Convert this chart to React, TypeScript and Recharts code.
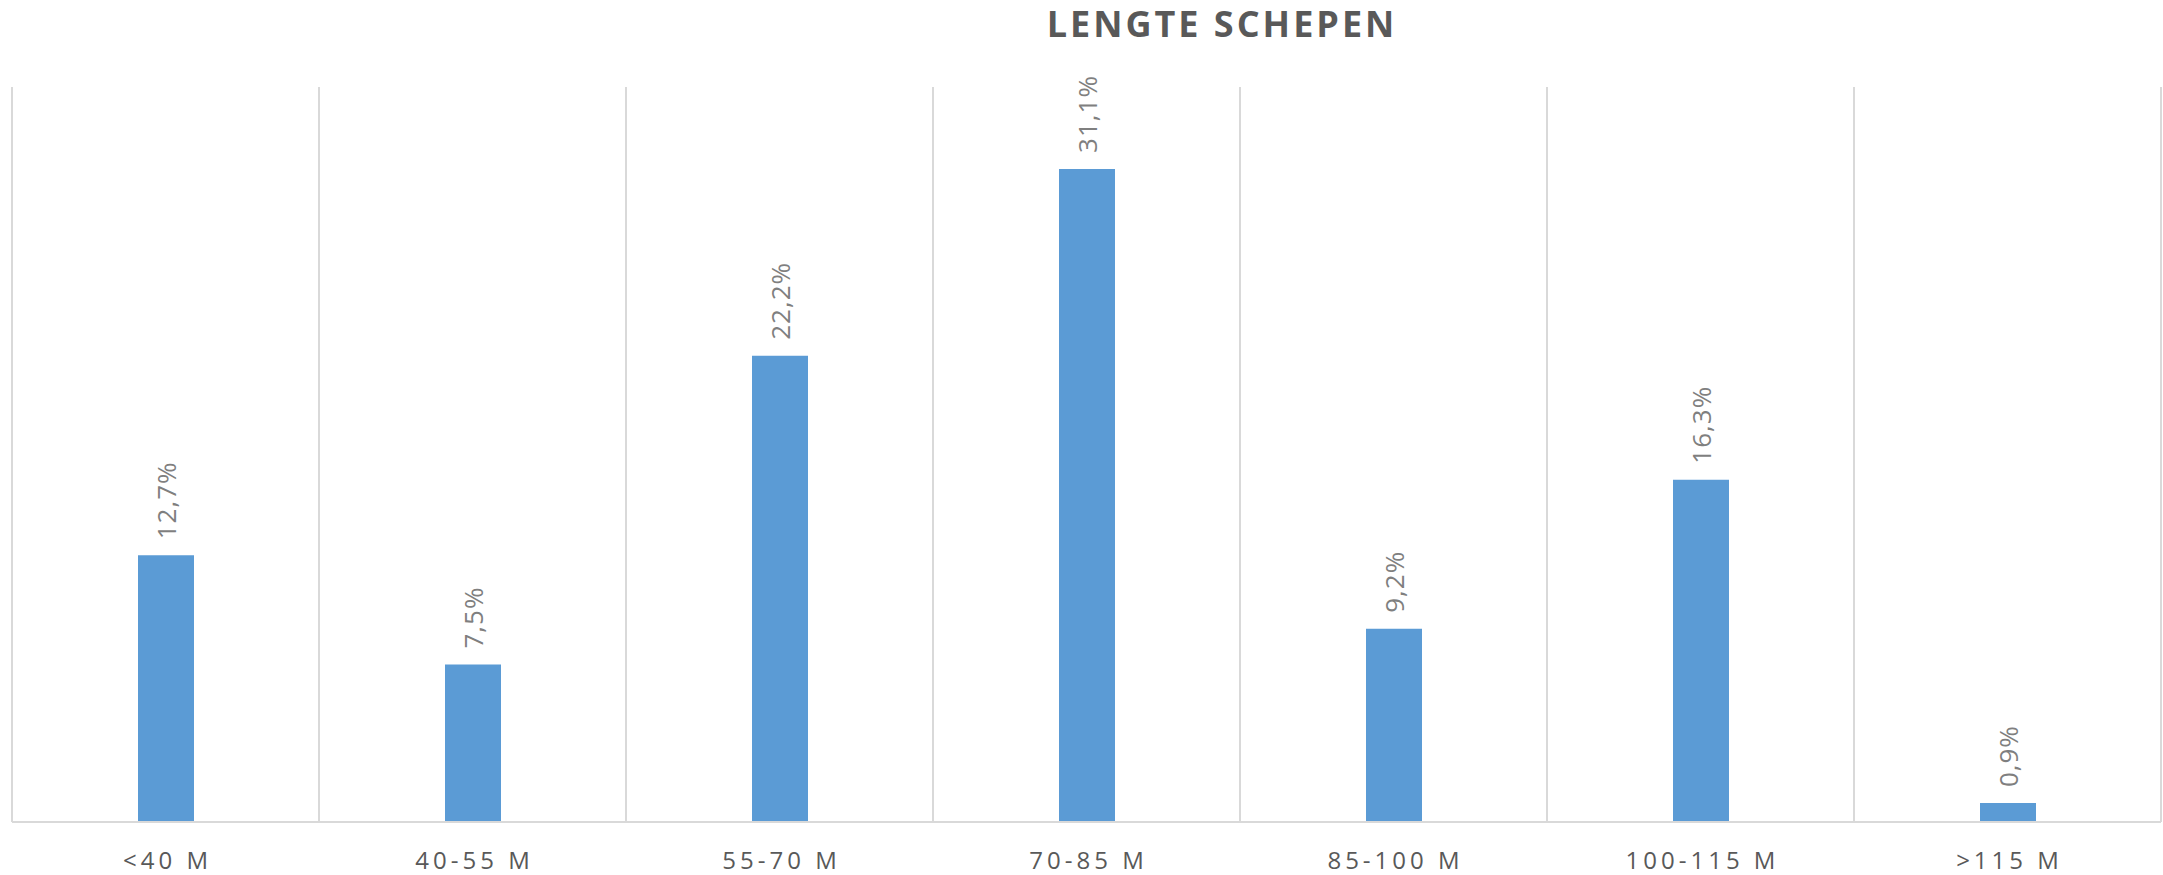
import React from 'react';
import { BarChart, Bar, XAxis, YAxis, CartesianGrid, LabelList } from 'recharts';

const categories = ['<40 M', '40-55 M', '55-70 M', '70-85 M', '85-100 M', '100-115 M', '>115 M'];
const shares = [12.7, 7.5, 22.2, 31.1, 9.2, 16.3, 0.9];
const gridTicks = [0, 1, 2, 3, 4, 5, 6, 7];
const title = 'LENGTE SCHEPEN';

const data = categories.map((name, i) => ({ name, idx: i + 0.5, value: shares[i] }));

const FONT = '"Open Sans", "Liberation Sans", sans-serif';

const fmt = (v: number) => v.toFixed(1).replace('.', ',') + '%';

const CategoryTick = (props: any) => {
  const { x, y, payload } = props;
  return (
    <text
      x={x + 2}
      y={y + 47}
      textAnchor="middle"
      fill="#595959"
      fontFamily={FONT}
      fontSize={24}
      letterSpacing={4}
    >
      {payload.value}
    </text>
  );
};

const ValueLabel = (props: any) => {
  const { x, y, width, value } = props;
  const cx = x + width / 2;
  const cy = y - 16;
  return (
    <text
      x={cx}
      y={cy}
      transform={`rotate(-90, ${cx}, ${cy})`}
      textAnchor="start"
      dominantBaseline="central"
      fill="#7f7f7f"
      fontFamily={FONT}
      fontSize={26}
      letterSpacing={1}
    >
      {fmt(value)}
    </text>
  );
};

export default function App() {
  return (
    <div style={{ position: 'absolute', left: 0, top: 0, width: 2163, height: 875, background: '#fff' }}>
      <svg width={2163} height={60} style={{ position: 'absolute', left: 0, top: 0 }}>
        <text
          x={1222}
          y={37}
          textAnchor="middle"
          fill="#595959"
          fontFamily={FONT}
          fontWeight={700}
          fontSize={36}
          letterSpacing={3}
        >
          {title}
        </text>
      </svg>
      <div style={{ position: 'absolute', left: 0, top: 0 }}>
        <BarChart
          width={2163}
          height={875}
          data={data}
          margin={{ top: 87, right: 2, left: 12, bottom: 0 }}
        >
          <XAxis
            xAxisId="grid"
            type="number"
            dataKey="idx"
            domain={[0, 7]}
            ticks={gridTicks}
            hide
          />
          <CartesianGrid xAxisId="grid" horizontal={false} stroke="#d9d9d9" strokeWidth={2} />
          <XAxis
            dataKey="name"
            height={53}
            axisLine={{ stroke: '#d9d9d9', strokeWidth: 2 }}
            tickLine={false}
            tickSize={0}
            tickMargin={0}
            tick={<CategoryTick />}
            interval={0}
          />
          <YAxis hide domain={[0, 35]} />
          <Bar dataKey="value" fill="#5b9bd5" barSize={56} isAnimationActive={false}>
            <LabelList dataKey="value" content={<ValueLabel />} />
          </Bar>
        </BarChart>
      </div>
    </div>
  );
}
